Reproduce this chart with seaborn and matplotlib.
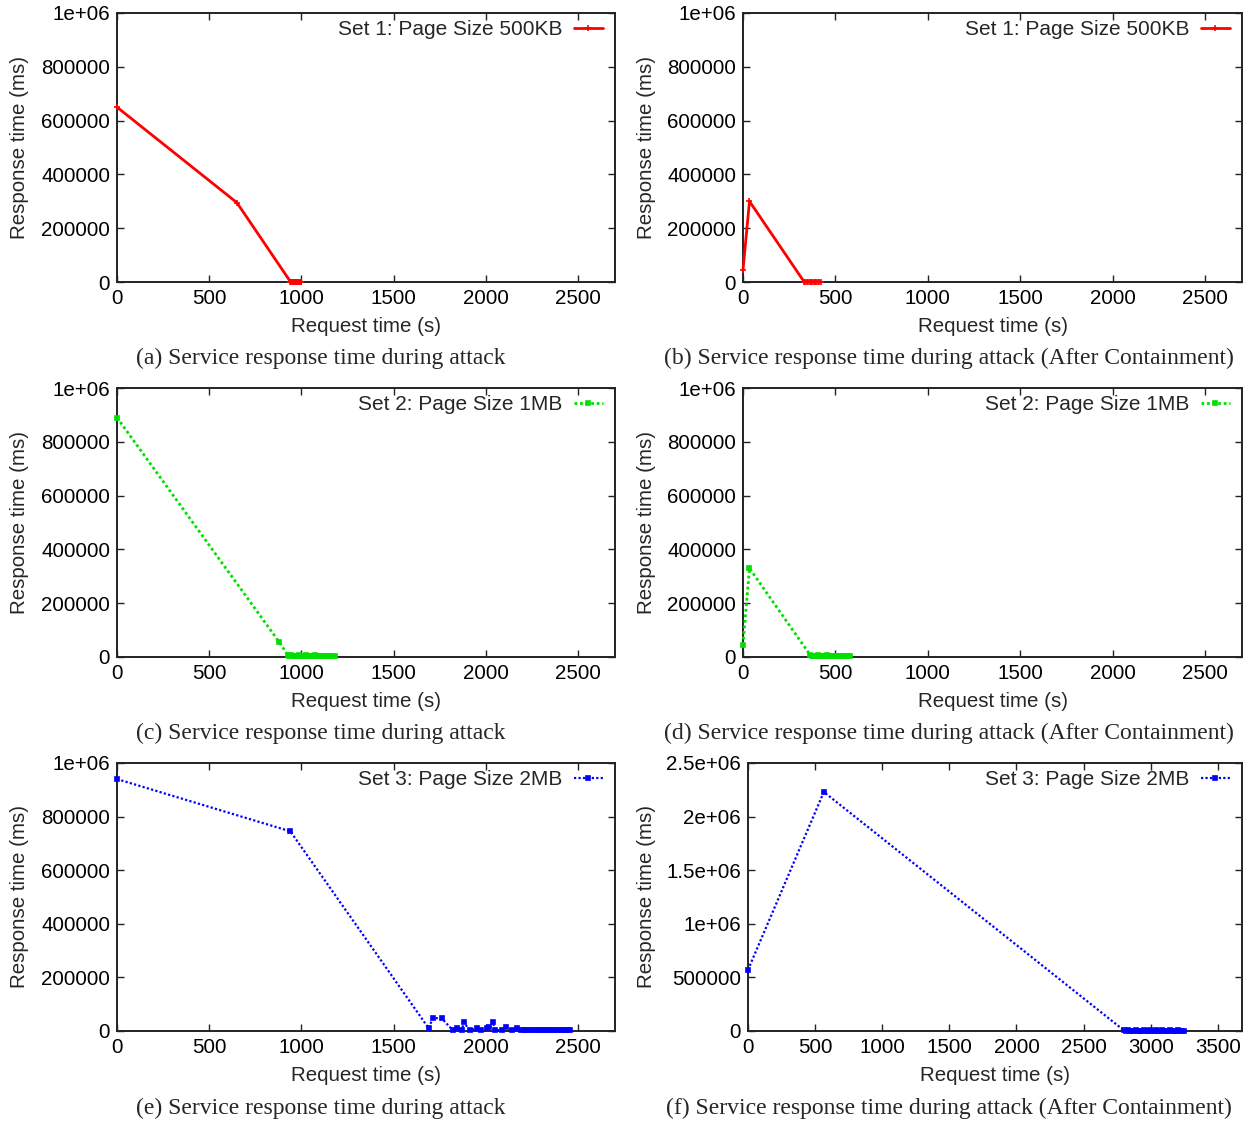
import matplotlib
matplotlib.use('Agg')
import matplotlib.pyplot as plt
from matplotlib.ticker import FuncFormatter, MultipleLocator
import pandas as pd
import seaborn as sns

# --- data (request time s, response time ms) ---
set1_attack_x = [0, 650, 940, 945, 950, 955, 960, 965, 970, 975, 980, 985, 990, 995, 1000]
set1_attack_y = [650000, 295000, 1500, 1200, 1800, 1000, 1400, 1100, 1300, 1600, 1000,
                 1500, 1200, 1100, 1300]
set1_contain_x = [0, 35, 330, 337, 345, 352, 360, 367, 375, 382, 390, 397, 405, 412, 420]
set1_contain_y = [45000, 300000, 1500, 1200, 1800, 1000, 1500, 1200, 1000, 1400, 1100,
                  1300, 1200, 1000, 1100]

set2_attack_x = [0, 880, 925, 935, 945, 955, 965, 975, 985, 995, 1005, 1015, 1025, 1035,
                 1045, 1055, 1065, 1075, 1085, 1095, 1105, 1115, 1125, 1135, 1145, 1155,
                 1165, 1180]
set2_attack_y = [890000, 55000, 8000, 4000, 6000, 3000, 5000, 4000, 6000, 3000, 5000,
                 4000, 6000, 3000, 5000, 4000, 3000, 6000, 4000, 3000, 5000, 4000, 3000,
                 5000, 4000, 3000, 4000, 3000]
set2_contain_x = [0, 35, 365, 375, 385, 395, 405, 415, 425, 435, 445, 455, 465, 475, 485,
                  495, 505, 515, 525, 535, 545, 555, 565, 580]
set2_contain_y = [45000, 330000, 6000, 4000, 5000, 3000, 6000, 4000, 5000, 3000, 4000,
                  6000, 3000, 5000, 4000, 3000, 5000, 4000, 3000, 5000, 4000, 3000,
                  4000, 3000]

set3_attack_x = [0, 940, 1690, 1712, 1760, 1820, 1843, 1870, 1880, 1912, 1950, 1972,
                 2005, 2016, 2038, 2050, 2088, 2110, 2140, 2168, 2190, 2205, 2220, 2235,
                 2250, 2265, 2280, 2295, 2310, 2325, 2340, 2355, 2370, 2385, 2400, 2415,
                 2430, 2445, 2455]
set3_attack_y = [940000, 745000, 10000, 48000, 48000, 3000, 12000, 3000, 33000, 3000,
                 10000, 4000, 12000, 16000, 35000, 3000, 3000, 15000, 3000, 10000,
                 5000, 3000, 4000, 2000, 3000, 5000, 2000, 3000, 4000, 2000, 3000,
                 5000, 2000, 3000, 4000, 2000, 3000, 2000, 3000]
set3_contain_x = [0, 565, 2800, 2815, 2830, 2845, 2860, 2875, 2890, 2905, 2920, 2935,
                  2950, 2965, 2980, 2995, 3010, 3025, 3040, 3055, 3070, 3085, 3100, 3115,
                  3130, 3145, 3160, 3175, 3190, 3205, 3220, 3235, 3250]
set3_contain_y = [570000, 2230000, 6000, 3000, 5000, 2000, 4000, 3000, 6000, 2000,
                  4000, 3000, 5000, 2000, 4000, 6000, 3000, 2000, 5000, 4000, 3000,
                  6000, 2000, 4000, 3000, 5000, 2000, 4000, 3000, 6000, 2000, 4000, 3000]

legend_labels = ['Set 1: Page Size 500KB', 'Set 2: Page Size 1MB', 'Set 3: Page Size 2MB']
captions = ['(a) Service response time during attack',
            '(b) Service response time during attack (After Containment)',
            '(c) Service response time during attack',
            '(d) Service response time during attack (After Containment)',
            '(e) Service response time during attack',
            '(f) Service response time during attack (After Containment)']

W, H = 1252, 1124

sns.set_style('ticks')
plt.rcParams['font.family'] = ['Liberation Sans', 'DejaVu Sans']
plt.rcParams['axes.linewidth'] = 1.4
plt.rcParams['axes.edgecolor'] = '#222222'

fig = plt.figure(figsize=(W / 100, H / 100), dpi=100)


def px_axes(left, top, right, bottom):
    # pixel box -> figure fraction
    return [left / W, 1 - bottom / H, (right - left) / W, (bottom - top) / H]


styles = [
    dict(color='#ff0000', linestyle='-', linewidth=2.0, marker='+', markersize=4),
    dict(color='#00e000', linestyle=(0, (1, 1)), linewidth=2.0, marker='s', markersize=3),
    dict(color='#0000ff', linestyle=(0, (1, 1)), linewidth=1.6, marker='s', markersize=3),
]

panels = [
    (set1_attack_x, set1_attack_y, 0, (117, 13, 615, 282), 2700, 1e6, 200000),
    (set1_contain_x, set1_contain_y, 0, (743, 13, 1242, 282), 2700, 1e6, 200000),
    (set2_attack_x, set2_attack_y, 1, (117, 388, 615, 657), 2700, 1e6, 200000),
    (set2_contain_x, set2_contain_y, 1, (743, 388, 1242, 657), 2700, 1e6, 200000),
    (set3_attack_x, set3_attack_y, 2, (117, 763, 615, 1031), 2700, 1e6, 200000),
    (set3_contain_x, set3_contain_y, 2, (748, 763, 1242, 1031), 3680, 2.5e6, 500000),
]
caption_pos = [(321, 358), (949, 358), (321, 733), (949, 733), (321, 1108), (949, 1108)]

for i, (xs, ys, s, box, xmax, ymax, ystep) in enumerate(panels):
    ax = fig.add_axes(px_axes(*box))
    df = pd.DataFrame({'t': xs, 'r': ys})
    st = styles[s]
    sns.lineplot(data=df, x='t', y='r', ax=ax, sort=False, estimator=None,
                 label=legend_labels[s], markeredgewidth=1.2,
                 markeredgecolor=st['color'], markerfacecolor=st['color'],
                 clip_on=False, zorder=4, **st)
    ax.set_xlim(0, xmax)
    ax.set_ylim(0, ymax)
    ax.xaxis.set_major_locator(MultipleLocator(500))
    ax.yaxis.set_major_locator(MultipleLocator(ystep))
    ax.yaxis.set_major_formatter(FuncFormatter(lambda v, p: f'{v:g}'))
    ax.tick_params(direction='in', length=5, width=1.0, labelsize=14.8,
                   top=True, right=True, pad=5, colors='#222222', labelcolor='black')
    ax.set_xlabel('Request time (s)', fontsize=14.8)
    ax.set_ylabel('Response time (ms)', fontsize=14.8)
    left, top, right, bottom = box
    ax.xaxis.set_label_coords(0.5, -35 / (bottom - top))
    ax.yaxis.set_label_coords((29 + (0 if i % 2 == 0 else 627) - left) / (right - left), 0.5)
    ax.legend(loc='upper right', frameon=False, markerfirst=False, fontsize=15,
              handlelength=1.4, handletextpad=0.55, borderaxespad=0.0,
              borderpad=0.2, numpoints=1,
              bbox_to_anchor=(1 - 8 / (right - left), 1 - 3 / (bottom - top)))
    cx, cy = caption_pos[i]
    fig.text(cx / W, 1 - cy / H, captions[i], ha='center', va='center',
             fontsize=17, family=['Liberation Serif', 'DejaVu Serif'])

fig.savefig('out.png', dpi=100)
